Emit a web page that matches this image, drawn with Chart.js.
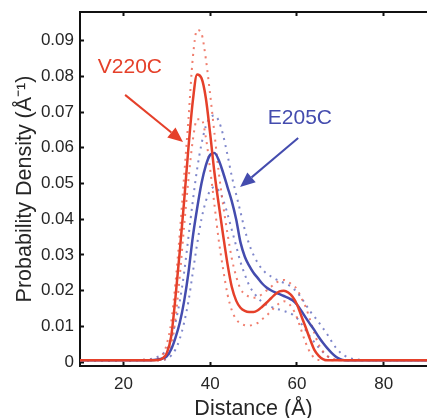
<!DOCTYPE html>
<html>
<head>
<meta charset="utf-8">
<script src="https://cdn.jsdelivr.net/npm/chart.js@4/dist/chart.umd.min.js"></script>
<style>
  html, body { margin: 0; padding: 0; background: #fff; }
  #wrap { width: 427px; height: 418px; }
</style>
</head>
<body>
<div id="wrap"><canvas id="chart" width="427" height="418"></canvas></div>
<script>
// Distance grid (Å)
const distance = [
  10, 20, 24, 26, 28, 29, 30, 31, 32, 33,
  34, 35, 36, 37, 38, 39, 40, 41, 42, 43,
  44, 45, 46, 47, 48, 49, 50, 51, 52, 53,
  54, 55, 56, 57, 58, 59, 60, 61, 62, 63,
  64, 65, 66, 67, 68, 69, 70, 71, 72, 74,
  76, 78, 80, 90
];

// V220C probability density + bounds
const v220c = [
  .0005, .0005, .0005, .0005, .0006, .001, .0025, .007, .018, .031,
  .045, .060, .073, .0805, .0795, .074, .064, .053, .044, .0355,
  .0275, .021, .0172, .0152, .0143, .014, .014, .0145, .0155, .0166,
  .0178, .019, .0198, .020, .0195, .0183, .0162, .013, .0098, .0065,
  .0035, .0018, .0008, .0005, .0005, .0005, .0005, .0005, .0005, .0005,
  .0005, .0005, .0005, .0005
];
const v220cHi = [
  .0005, .0005, .0006, .0007, .001, .002, .005, .011, .022, .036,
  .052, .068, .085, .093, .092, .085, .075, .064, .053, .044,
  .036, .029, .024, .0205, .019, .0183, .018, .0183, .019, .020,
  .021, .022, .0228, .023, .0225, .0215, .0205, .018, .0155, .012,
  .0082, .005, .003, .0017, .001, .0007, .0006, .0005, .0005, .0005,
  .0005, .0005, .0005, .0005
];
const v220cLo = [
  .0005, .0005, .0005, .0005, .0005, .0006, .0012, .004, .012, .024,
  .038, .051, .062, .068, .068, .063, .054, .044, .034, .026,
  .019, .0145, .012, .0108, .0103, .0102, .0105, .011, .012, .013,
  .0142, .0155, .0165, .017, .0165, .015, .0125, .009, .0055, .0028,
  .0012, .0006, .0005, .0005, .0005, .0005, .0005, .0005, .0005, .0005,
  .0005, .0005, .0005, .0005
];

// E205C probability density + bounds
const e205c = [
  .0005, .0005, .0005, .0005, .0007, .001, .0016, .0035, .0068, .011,
  .017, .025, .035, .043, .050, .055, .058, .0585, .0565, .053,
  .049, .045, .040, .0335, .0295, .027, .025, .0235, .022, .0209,
  .0201, .0195, .019, .0185, .018, .0173, .0161, .0144, .0125, .0107,
  .009, .0071, .0054, .0039, .0026, .0015, .0008, .0005, .0005, .0005,
  .0005, .0005, .0005, .0005
];
const e205cHi = [
  .0005, .0005, .0006, .0008, .0015, .0022, .0035, .0065, .011, .017,
  .025, .035, .045, .054, .061, .066, .0685, .069, .0675, .0635,
  .058, .052, .047, .042, .037, .033, .030, .0277, .026, .0248,
  .024, .0233, .0227, .0222, .0216, .0208, .0196, .018, .0162, .0143,
  .0128, .0112, .0095, .0078, .0058, .004, .0027, .0018, .0012, .0007,
  .0006, .0005, .0005, .0005
];
const e205cLo = [
  .0005, .0005, .0005, .0005, .0005, .0006, .0009, .0018, .0035, .0065,
  .011, .017, .025, .033, .040, .045, .048, .049, .048, .0455,
  .0415, .037, .0325, .028, .0245, .0215, .0195, .018, .0168, .016,
  .0155, .015, .0147, .0143, .0139, .0133, .0123, .0108, .009, .0072,
  .0056, .0041, .0028, .0017, .0009, .0006, .0005, .0005, .0005, .0005,
  .0005, .0005, .0005, .0005
];

const xTicks = [20, 40, 60, 80];
const yTicks = [0, 0.01, 0.02, 0.03, 0.04, 0.05, 0.06, 0.07, 0.08, 0.09];

const RED = '#e5402a';
const BLUE = '#444cae';
const RED_DOT = 'rgba(236, 95, 75, 0.8)';
const BLUE_DOT = 'rgba(95, 105, 190, 0.8)';
const FONT = '"Liberation Sans", Arial, sans-serif';

// arrow labels, in data units
const callouts = [
  { text: 'V220C', color: RED, tx: 21.5, ty: 0.0826, from: [20.4, 0.0748], to: [33.75, 0.0616] },
  { text: 'E205C', color: BLUE, tx: 60.7, ty: 0.0683, from: [60.3, 0.0627], to: [46.9, 0.0490] }
];

const toPoints = (vals) => distance.map((d, i) => ({ x: d, y: vals[i] }));

function solid(label, vals, color, order) {
  return {
    label, data: toPoints(vals), borderColor: color, borderWidth: 2.5,
    pointRadius: 0, cubicInterpolationMode: 'monotone', order
  };
}
function dotted(label, vals, color, order) {
  return {
    label, data: toPoints(vals), borderColor: color, borderWidth: 2,
    borderDash: [2, 5], borderCapStyle: 'butt',
    pointRadius: 0, cubicInterpolationMode: 'monotone', order
  };
}

function fixFit(w, h) {
  return (scale) => {
    if (w !== null) scale.width = w;
    if (h !== null) scale.height = h;
    scale.paddingLeft = 0; scale.paddingRight = 0;
    scale.paddingTop = 0; scale.paddingBottom = 0;
  };
}

const calloutPlugin = {
  id: 'callouts',
  afterDatasetsDraw(chart) {
    const { ctx, scales: { x, y } } = chart;
    callouts.forEach(c => {
      ctx.save();
      ctx.fillStyle = c.color;
      ctx.strokeStyle = c.color;
      ctx.font = '21px ' + FONT;
      ctx.textAlign = 'center';
      ctx.textBaseline = 'middle';
      ctx.fillText(c.text, x.getPixelForValue(c.tx), y.getPixelForValue(c.ty));

      const x0 = x.getPixelForValue(c.from[0]), y0 = y.getPixelForValue(c.from[1]);
      const x1 = x.getPixelForValue(c.to[0]), y1 = y.getPixelForValue(c.to[1]);
      const ang = Math.atan2(y1 - y0, x1 - x0);
      const head = 15, half = 6.5;
      const bx = x1 - head * Math.cos(ang), by = y1 - head * Math.sin(ang);
      ctx.lineWidth = 2;
      ctx.beginPath();
      ctx.moveTo(x0, y0);
      ctx.lineTo(bx, by);
      ctx.stroke();
      ctx.beginPath();
      ctx.moveTo(x1, y1);
      ctx.lineTo(bx + half * Math.sin(ang), by - half * Math.cos(ang));
      ctx.lineTo(bx - half * Math.sin(ang), by + half * Math.cos(ang));
      ctx.closePath();
      ctx.fill();
      ctx.restore();
    });
  }
};

Chart.defaults.font.family = FONT;
Chart.defaults.color = '#262626';

new Chart(document.getElementById('chart').getContext('2d'), {
  type: 'line',
  data: {
    datasets: [
      solid('V220C', v220c, RED, 0),
      solid('E205C', e205c, BLUE, 1),
      dotted('V220C upper', v220cHi, RED_DOT, 2),
      dotted('V220C lower', v220cLo, RED_DOT, 3),
      dotted('E205C upper', e205cHi, BLUE_DOT, 4),
      dotted('E205C lower', e205cLo, BLUE_DOT, 5)
    ]
  },
  options: {
    responsive: false,
    animation: false,
    devicePixelRatio: 1,
    layout: { padding: { top: 12, right: 0, bottom: 0, left: 0 } },
    plugins: {
      legend: { display: false },
      tooltip: { enabled: false }
    },
    scales: {
      x: {
        type: 'linear', position: 'bottom', min: 10, max: 90,
        afterBuildTicks: (s) => { s.ticks = xTicks.map(v => ({ value: v })); },
        afterFit: fixFit(null, 52),
        border: { display: true, color: '#111', width: 2 },
        grid: { drawOnChartArea: false, tickLength: -4, tickWidth: 2, tickColor: '#111' },
        ticks: { font: { size: 17 }, padding: 12, maxRotation: 0, color: '#262626' },
        title: {
          display: true, text: 'Distance (Å)', color: '#262626',
          font: { size: 21.5, lineHeight: 1 }, padding: { top: 0, bottom: -2 }
        }
      },
      xTop: {
        type: 'linear', position: 'top', min: 10, max: 90,
        afterBuildTicks: (s) => { s.ticks = xTicks.map(v => ({ value: v })); },
        afterFit: fixFit(null, 0),
        border: { display: true, color: '#111', width: 2 },
        grid: { drawOnChartArea: false, tickLength: -4, tickWidth: 2, tickColor: '#111' },
        ticks: { display: false }
      },
      y: {
        type: 'linear', position: 'left', min: -0.0011, max: 0.098,
        afterBuildTicks: (s) => { s.ticks = yTicks.map(v => ({ value: v })); },
        afterFit: fixFit(80, null),
        border: { display: true, color: '#111', width: 2 },
        grid: { drawOnChartArea: false, tickLength: -4, tickWidth: 2, tickColor: '#111' },
        ticks: {
          font: { size: 17 }, padding: 10, color: '#262626',
          callback: (v) => v === 0 ? '0' : v.toFixed(2)
        },
        title: {
          display: true, text: 'Probability Density (Å⁻¹)', color: '#262626',
          font: { size: 21.5, lineHeight: 1 }, padding: { top: 14, bottom: 0 }
        }
      }
    }
  },
  plugins: [calloutPlugin]
});
</script>
</body>
</html>
